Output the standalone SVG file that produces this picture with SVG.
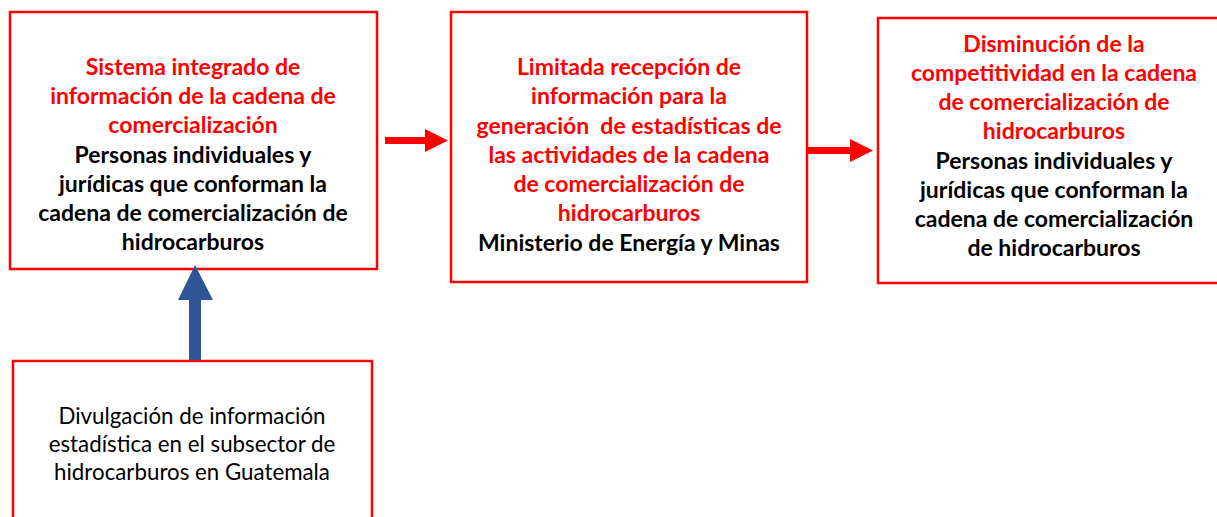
<svg xmlns="http://www.w3.org/2000/svg" width="1217" height="517" viewBox="0 0 1217 517">
<style>
.box{fill:#fff;stroke:#ff0000;stroke-width:2.5}
.t{font-family:Lato,"Liberation Sans",sans-serif;font-size:23px;text-anchor:middle}
.b{font-weight:bold}
.r{fill:#ff0000}
.k{fill:#000}
.n{font-size:22.3px;font-weight:normal}
</style>
<rect width="1217" height="517" fill="#fff"/>
<g id="node-sistema">
<rect class="box" x="10" y="12" width="367" height="257"/>
<text class="t b r" x="193" y="75">Sistema integrado de</text>
<text class="t b r" x="193" y="104">información de la cadena de</text>
<text class="t b r" x="193" y="133">comercialización</text>
<text class="t b k" x="193" y="163">Personas individuales y</text>
<text class="t b k" x="193" y="192">jurídicas que conforman la</text>
<text class="t b k" x="193" y="221">cadena de comercialización de</text>
<text class="t b k" x="193" y="250">hidrocarburos</text>
</g>
<g id="node-limitada">
<rect class="box" x="451" y="12" width="356" height="270"/>
<text class="t b r" x="629" y="75">Limitada recepción de</text>
<text class="t b r" x="629" y="104">información para la</text>
<text class="t b r" x="629" y="134" xml:space="preserve">generación  de estadísticas de</text>
<text class="t b r" x="629" y="163">las actividades de la cadena</text>
<text class="t b r" x="629" y="192">de comercialización de</text>
<text class="t b r" x="629" y="221">hidrocarburos</text>
<text class="t b k" x="629" y="251">Ministerio de Energía y Minas</text>
</g>
<g id="node-disminucion">
<rect class="box" x="878" y="18" width="345" height="265"/>
<text class="t b r" x="1054" y="52">Disminución de la</text>
<text class="t b r" x="1054" y="81">competitividad en la cadena</text>
<text class="t b r" x="1054" y="110">de comercialización de</text>
<text class="t b r" x="1054" y="139">hidrocarburos</text>
<text class="t b k" x="1054" y="169">Personas individuales y</text>
<text class="t b k" x="1054" y="198">jurídicas que conforman la</text>
<text class="t b k" x="1054" y="227">cadena de comercialización</text>
<text class="t b k" x="1054" y="256">de hidrocarburos</text>
</g>
<g id="node-divulgacion">
<rect class="box" x="13" y="361" width="359" height="170"/>
<text class="t n k" x="192" y="424">Divulgación de información</text>
<text class="t n k" x="192" y="452">estadística en el subsector de</text>
<text class="t n k" x="192" y="480">hidrocarburos en Guatemala</text>
</g>
<g id="connectors">
<polygon fill="#ff0000" points="385,137 425,137 425,129 448,140.5 425,152 425,144 385,144"/>
<polygon fill="#ff0000" points="807,147 850,147 850,139 873,150.5 850,162 850,154 807,154"/>
<polygon fill="#2f5597" points="189,360 189,300 178,300 195,265 213,300 201,300 201,360"/>
</g>
</svg>
